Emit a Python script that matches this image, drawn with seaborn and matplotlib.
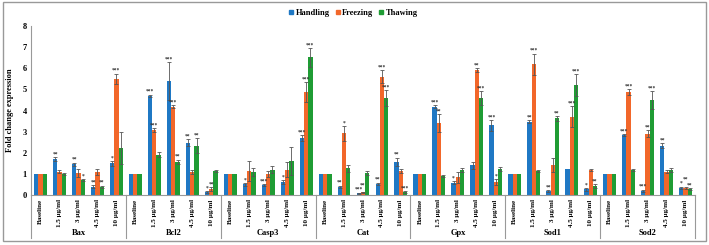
import matplotlib
matplotlib.use("Agg")
import matplotlib.pyplot as plt
import seaborn as sns
import pandas as pd
from matplotlib.patches import Rectangle
import matplotlib.transforms as mtransforms

# Data
genes = ["Bax", "Bcl2", "Casp3", "Cat", "Gpx", "Sod1", "Sod2"]
doses = ["Baseline", "1.5 µg/ml", "3 µg/ml", "4.5 µg/ml", "10 µg/ml"]
series = ["Handling", "Freezing", "Thawing"]

handling = [1, 1.69, 1.45, 0.39, 1.50,
            1, 4.69, 5.40, 2.48, 0.13,
            1, 0.50, 0.47, 0.60, 2.69,
            1, 0.39, 0.08, 0.54, 1.58,
            1, 4.18, 0.58, 1.41, 3.30,
            1, 3.47, 0.19, 1.22, 0.27,
            1, 2.83, 0.20, 2.34, 0.35]
freezing = [1, 1.10, 1.04, 1.10, 5.50,
            1, 3.08, 4.18, 1.09, 0.27,
            1, 1.14, 1.00, 1.20, 4.88,
            1, 2.92, 0.13, 5.60, 1.14,
            1, 3.40, 0.84, 5.91, 0.62,
            1, 6.19, 1.42, 3.71, 1.18,
            1, 4.88, 2.91, 1.10, 0.33]
thawing = [1, 0.98, 0.71, 0.39, 2.23,
           1, 1.90, 1.58, 2.34, 1.14,
           1, 1.09, 1.20, 1.60, 6.51,
           1, 1.26, 1.04, 4.60, 0.13,
           1, 0.90, 1.18, 4.60, 1.23,
           1, 1.14, 3.63, 5.20, 0.41,
           1, 1.17, 4.50, 1.17, 0.27]

handling_err = [0, 0.10, 0.08, 0.06, 0.12,
                0, 0.06, 0.90, 0.15, 0.05,
                0, 0.06, 0.05, 0.10, 0.15,
                0, 0.05, 0.03, 0.05, 0.19,
                0, 0.08, 0.08, 0.16, 0.25,
                0, 0.08, 0.05, 0.00, 0.06,
                0, 0.05, 0.05, 0.10, 0.05]
freezing_err = [0, 0.08, 0.20, 0.15, 0.25,
                0, 0.08, 0.08, 0.08, 0.10,
                0, 0.46, 0.15, 0.35, 0.47,
                0, 0.35, 0.03, 0.30, 0.08,
                0, 0.43, 0.25, 0.10, 0.15,
                0, 0.50, 0.32, 0.50, 0.05,
                0, 0.15, 0.15, 0.08, 0.05]
thawing_err = [0, 0.05, 0.05, 0.05, 0.75,
               0, 0.12, 0.10, 0.35, 0.05,
               0, 0.18, 0.15, 0.65, 0.44,
               0, 0.15, 0.08, 0.38, 0.05,
               0, 0.05, 0.10, 0.33, 0.08,
               0, 0.05, 0.12, 0.52, 0.10,
               0, 0.05, 0.41, 0.10, 0.05]

handling_sig = ["", "**", "**", "**", "*",
                "", "***", "***", "**", "*",
                "", "*", "***", "*", "***",
                "", "**", "***", "**", "**",
                "", "***", "*", "", "***",
                "", "**", "**", "", "*",
                "", "***", "***", "**", "*"]
freezing_sig = ["", "", "", "", "***",
                "", "***", "***", "", "**",
                "", "", "", "", "***",
                "", "*", "**", "***", "",
                "", "**", "", "**", "*",
                "", "***", "", "***", "",
                "", "***", "**", "", "**"]
thawing_sig = ["", "", "*", "**", "",
               "", "", "**", "**", "",
               "", "", "", "", "***",
               "", "", "", "***", "***",
               "", "", "", "***", "",
               "", "", "**", "***", "**",
               "", "", "***", "", "**"]

colors = ["#1f78c4", "#f2672a", "#1f9c34"]

# Long table for seaborn
rows = []
for s, vals in zip(series, [handling, freezing, thawing]):
    for i, v in enumerate(vals):
        g = genes[i // len(doses)]
        d = doses[i % len(doses)]
        rows.append({"cat": g + "|" + d, "series": s, "value": v})
df = pd.DataFrame(rows)
order = [g + "|" + d for g in genes for d in doses]

plt.rcParams['font.family'] = ['Liberation Serif', 'DejaVu Serif']
plt.rcParams['font.weight'] = 'bold'

fig = plt.figure(figsize=(7.09, 2.45), dpi=100)
ax = fig.add_axes([31 / 709, 1 - 195 / 245, (695 - 31) / 709, (195 - 26) / 245])

sns.barplot(data=df, x="cat", y="value", hue="series", order=order,
            hue_order=series, palette=colors, width=0.68, errorbar=None,
            saturation=1, ax=ax, legend=False)

errs = [handling_err, freezing_err, thawing_err]
sigs = [handling_sig, freezing_sig, thawing_sig]
# last star height per category, to stagger neighbours that would collide
last_star = {}
for cont, err, sig in zip(ax.containers, errs, sigs):
    for i, (bar, e, s) in enumerate(zip(cont, err, sig)):
        x = bar.get_x() + bar.get_width() / 2
        h = bar.get_height()
        if e > 0:
            ax.errorbar(x, h, yerr=e, fmt='none', ecolor='#555555',
                        elinewidth=0.6, capsize=1.4, capthick=0.6)
        if s:
            y = h + e + 0.03
            if i in last_star and abs(last_star[i] - y) < 0.2:
                y = last_star[i] + 0.2
            ax.text(x, y, s, ha='center', va='bottom',
                    fontsize=4, fontweight='bold', color='#333333')
            last_star[i] = y
        else:
            last_star.pop(i, None)

ax.set_ylim(0, 8)
ax.set_xlim(-0.5, len(order) - 0.5)
ax.set_yticks(range(0, 9))
ax.set_yticklabels([str(i) for i in range(0, 9)], fontsize=6, fontweight='bold')
ax.set_ylabel("Fold change expression", fontsize=6, fontweight='bold', labelpad=6)
ax.set_xlabel("")
ax.set_xticks(range(len(order)))
ax.set_xticklabels(doses * len(genes), rotation=90, fontsize=5, fontweight='bold')
ax.tick_params(axis='both', length=0, pad=3)

for sp in ["top", "right"]:
    ax.spines[sp].set_visible(False)
ax.spines["left"].set_color("#999999")
ax.spines["bottom"].set_color("#999999")
ax.spines["left"].set_linewidth(0.8)
ax.spines["bottom"].set_linewidth(0.8)

# Group separators and gene labels
trans = mtransforms.blended_transform_factory(ax.transData, ax.transAxes)
n = len(doses)
for k in range(len(genes) + 1):
    xb = k * n - 0.5
    ax.plot([xb, xb], [0, -0.255], transform=trans, color='#999999',
            lw=0.8, clip_on=False)
for k, g in enumerate(genes):
    ax.text(k * n + (n - 1) / 2, -0.225, g, transform=trans, ha='center',
            va='center', fontsize=6, fontweight='bold')

# Legend
handles = [plt.Line2D([], [], marker='s', color=c, linestyle='none', markersize=3)
           for c in colors]
fig.legend(handles, series, loc='center', bbox_to_anchor=(0.497, 1 - 13 / 245),
           ncol=3, frameon=False, handletextpad=0.0, handlelength=1.0,
           columnspacing=0.5, prop={'weight': 'bold', 'size': 6})

# Outer frame
fig.patches.append(Rectangle((0.004, 0.016), 0.992, 0.976, transform=fig.transFigure,
                             fill=False, edgecolor='#999999', lw=1.0))

fig.savefig("out.png", dpi=100)
plt.close(fig)
